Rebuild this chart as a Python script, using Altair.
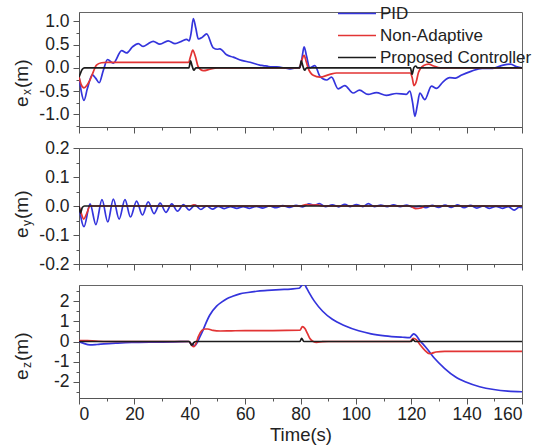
import altair as alt
import pandas as pd

SERIES = ["PID", "Non-Adaptive", "Proposed Controller"]
COLORS = ["#3434dc", "#e23434", "#1c1c1c"]
FONT = "Liberation Sans"

# ---------------- panel 1 : e_x ----------------
ex_pid_t = [0, 0.8, 1.8, 3.0, 4.8, 6.0, 7.3, 8.8, 10.3, 12.4, 15.4, 17.2, 19.3, 21.4,
            23.2, 25.0, 26.8, 29.2, 32.2, 34.7, 37.0, 38.9, 39.8, 40.5, 41.3, 42.2,
            43.1, 44.6, 46.1, 48.5, 50.0, 50.9, 53.3, 55.7, 58.7, 61.8, 65.3, 66.5,
            68.5, 71.4, 74.0, 76.2, 78.5, 79.8, 80.5, 81.3, 82.2, 83.3, 85.2, 87.0,
            89.4, 91.2, 93.6, 96.0, 99.0, 101.3, 104.4, 107.4, 111.0, 114.6, 118.2,
            119.5, 120.5, 121.3, 122.2, 123.1, 124.9, 127.3, 129.1, 131.5, 133.9,
            136.0, 138.0, 141.8, 145.6, 149.4, 153.2, 155.8, 158.3, 160]
ex_pid_v = [-0.18, -0.5, -0.7, -0.45, -0.15, -0.22, -0.32, -0.05, 0.18, 0.10, 0.37,
            0.32, 0.45, 0.52, 0.46, 0.52, 0.57, 0.51, 0.58, 0.52, 0.57, 0.61, 0.58,
            0.75, 1.06, 0.85, 0.62, 0.66, 0.73, 0.43, 0.40, 0.41, 0.28, 0.23, 0.16,
            0.12, 0.06, 0.05, 0.03, 0.02, 0.0, -0.02, 0.0, 0.01, 0.2, 0.45, 0.25, 0.0,
            0.05, -0.18, -0.26, -0.2, -0.45, -0.38, -0.54, -0.48, -0.57, -0.53, -0.59,
            -0.55, -0.57, -0.5, -0.75, -1.04, -0.8, -0.54, -0.68, -0.39, -0.44, -0.30,
            -0.21, -0.22, -0.16, -0.07, -0.01, -0.01, 0.06, 0.08, 0.02, 0.0]
ex_na_t = [0, 0.8, 1.8, 3.0, 4.0, 5.2, 6.3, 8.1, 10, 39.6, 40.3, 41.1, 42.0, 43.1,
           44.9, 47.3, 49.8, 79.6, 80.4, 81.3, 82.0, 82.8, 84.6, 87.0, 90.6, 93,
           119.6, 120.3, 121.0, 121.8, 122.6, 124.5, 126.3, 128.1, 130.5, 160]
ex_na_v = [-0.19, -0.36, -0.43, -0.36, -0.26, -0.08, 0.06, 0.11, 0.12, 0.12, 0.25,
           0.38, 0.25, 0.02, -0.06, -0.03, 0.0, 0.0, 0.15, 0.27, 0.15, -0.01, -0.16,
           -0.2, -0.14, -0.11, -0.11, -0.2, -0.38, -0.3, -0.1, 0.05, 0.08, 0.04, 0.0, 0.0]
ex_pc_t = [0, 0.5, 1.2, 2.0, 39.7, 40.3, 40.8, 41.5, 42.2, 79.7, 80.3, 80.8, 81.5,
           82.2, 119.7, 120.3, 120.9, 121.6, 122.3, 160]
ex_pc_v = [-0.2, -0.12, -0.03, 0.0, 0.0, 0.15, 0.05, -0.05, 0.0, 0.0, 0.15, 0.05,
           -0.05, 0.0, 0.0, -0.14, 0.0, 0.04, 0.0, 0.0]

# ---------------- panel 2 : e_y ----------------
ey_pid_t = [0, 1.8, 4.0, 6.1, 8.3, 10.4, 12.4, 14.5, 16.6, 18.6, 20.8, 22.9, 25.0,
            27.1, 29.3, 31.4, 33.5, 35.6, 37.7, 39.8, 41.9, 44.0, 46.1, 48.2, 50.3,
            52.5, 54.7, 57.0, 59.3, 61.6, 64.0, 66.4, 68.8, 71.2, 73.6, 76.0, 78.4,
            80.8, 83.0, 85.0, 86.8, 89.0, 91.5, 93.8, 96.0, 98.0, 100.2, 102.5, 104.5,
            106.7, 109.0, 111.3, 113.6, 116.0, 118.3, 120.6, 123.0, 125.3, 127.6,
            129.9, 132.2, 134.5, 136.8, 139.1, 141.4, 143.7, 146.0, 148.3, 150.6,
            152.9, 155.0, 157.2, 159.0, 160]
ey_pid_v = [0.0, -0.071, 0.007, -0.064, 0.022, -0.055, 0.024, -0.045, 0.022, -0.038,
            0.017, -0.031, 0.014, -0.026, 0.010, -0.022, 0.007, -0.018, 0.005, -0.014,
            0.003, -0.012, 0.0, -0.011, -0.001, -0.009, -0.002, -0.008, -0.002, -0.008,
            -0.001, -0.007, 0.0, -0.006, 0.001, -0.005, 0.002, -0.003, 0.007, 0.003,
            0.008, -0.002, 0.004, -0.003, 0.006, -0.002, 0.005, -0.002, 0.008, -0.002,
            0.003, -0.002, 0.004, -0.002, 0.003, -0.004, -0.001, -0.006, 0.002, -0.005,
            0.003, -0.005, 0.004, -0.006, 0.002, -0.007, 0.0, -0.008, -0.001, -0.008,
            -0.002, -0.014, -0.004, -0.006]
ey_na_t = [0, 0.8, 1.7, 2.8, 4.0, 8, 40, 41.5, 43, 80, 82, 84, 86, 88, 119.5, 121.5,
           123.5, 125, 160]
ey_na_v = [0.0, -0.025, -0.045, -0.025, 0.0, 0.0, 0.0, 0.004, 0.0, 0.0, 0.005, 0.003,
           0.004, 0.0, 0.0, -0.009, -0.007, 0.0, 0.0]
ey_pc_t = [0, 0.5, 1.2, 2.0, 160]
ey_pc_v = [0.0, -0.025, -0.005, 0.0, 0.0]

# ---------------- panel 3 : e_z ----------------
ez_pid_t = [0, 1.5, 4, 6.5, 9, 14, 19, 27, 34.5, 39.5, 40.8, 41.8, 42.7, 43.7, 44.6,
            45.5, 47.2, 49.7, 51.5, 53.4, 55.5, 58.1, 61, 64.2, 68, 72.6, 76.5, 79.5,
            80.4, 81.2, 82.0, 83.0, 85.0, 88.0, 91.5, 96.0, 101.0, 105.5, 110.5,
            116.9, 119.4, 120.2, 120.9, 121.9, 123.2, 124.5, 125.7, 128.3, 132.1,
            135.9, 139.7, 144.7, 149.8, 154.9, 160]
ez_pid_v = [0.0, -0.08, -0.17, -0.15, -0.12, -0.08, -0.05, -0.03, -0.02, 0.0, -0.14,
            -0.21, -0.05, 0.24, 0.5, 0.8, 1.3, 1.75, 1.95, 2.12, 2.24, 2.36, 2.43, 2.49,
            2.53, 2.57, 2.6, 2.64, 2.77, 2.9, 2.7, 2.45, 2.0, 1.5, 1.1, 0.78, 0.53, 0.38,
            0.28, 0.21, 0.19, 0.3, 0.38, 0.28, 0.02, -0.17, -0.36, -0.82, -1.34, -1.75,
            -2.01, -2.24, -2.38, -2.46, -2.49]
ez_na_t = [0, 3, 6, 10, 39.8, 40.8, 41.5, 42.2, 43.1, 44.4, 45.5, 46.5, 48.4, 51, 55,
           60, 70, 79.8, 80.7, 81.6, 82.5, 83.4, 84.6, 85.8, 88, 90, 119.5, 120.7,
           121.9, 123.2, 125.1, 126.5, 127.5, 128.9, 132.1, 160]
ez_na_v = [0.05, 0.04, 0.02, 0.0, 0.0, -0.2, -0.25, -0.12, 0.24, 0.55, 0.62, 0.62,
           0.55, 0.52, 0.53, 0.54, 0.54, 0.56, 0.74, 0.64, 0.4, 0.15, 0.0, -0.04, -0.01,
           0.0, 0.0, 0.16, 0.08, -0.16, -0.46, -0.6, -0.58, -0.52, -0.49, -0.49]
ez_pc_t = [0, 39.8, 40.7, 41.5, 42.2, 79.8, 80.4, 81.2, 120, 120.6, 121.4, 160]
ez_pc_v = [0.0, 0.0, -0.18, -0.05, 0.0, 0.0, 0.15, 0.0, 0.0, 0.1, 0.0, 0.0]

# axis tick layouts
X_TICKS = list(range(0, 161, 10))
EX_TICKS = [-1.25, -1.0, -0.75, -0.5, -0.25, 0.0, 0.25, 0.5, 0.75, 1.0]
EY_TICKS = [-0.2, -0.15, -0.1, -0.05, 0.0, 0.05, 0.1, 0.15, 0.2]
EZ_TICKS = [-2.5, -2, -1.5, -1, -0.5, 0, 0.5, 1, 1.5, 2, 2.5]

PLOT_W = 443


def frame(parts):
    return pd.concat([pd.DataFrame({"t": t, "v": v, "s": name}) for name, t, v in parts],
                     ignore_index=True)


def title_layers(sub, e_start):
    base = alt.Chart(pd.DataFrame({"k": [0]}))
    common = dict(angle=270, align="left", baseline="alphabetic", font=FONT, color="#222")
    e = base.mark_text(text="e", fontSize=19, **common).encode(
        x=alt.value(-51), y=alt.value(e_start))
    s = base.mark_text(text=sub, fontSize=12, **common).encode(
        x=alt.value(-48), y=alt.value(e_start - 12))
    m = base.mark_text(text="(m)", fontSize=19, **common).encode(
        x=alt.value(-51), y=alt.value(e_start - 19))
    return [e, s, m]


def anchor(y):
    # invisible rule fixing the page extent (left edge to right edge of the window)
    return alt.Chart(pd.DataFrame({"k": [0]})).mark_rule(
        stroke="white", strokeOpacity=0, strokeWidth=1).encode(
        x=alt.value(-78.5), x2=alt.value(469.5), y=alt.value(y), y2=alt.value(y))


def panel(df, height, ydom, yticks, major_test, label_fmt, sub, e_start, last, legend, extra):
    x_kwargs = dict(
        values=X_TICKS,
        labels=last,
        labelExpr="datum.value % 20 == 0 ? datum.label : ''",
        tickSize={"condition": {"test": "datum.value % 20 == 0", "value": 6}, "value": 3},
        labelPadding=1,
        grid=False,
    )
    if last:
        x_kwargs["title"] = "Time(s)"
        x_kwargs["titlePadding"] = 3
    else:
        x_kwargs["title"] = None
    y_axis = alt.Axis(
        values=yticks,
        labelExpr=f"{major_test} ? (datum.value < 0 ? '-' : '') + format(abs(datum.value), '{label_fmt}') : ''",
        tickSize={"condition": {"test": major_test, "value": 6}, "value": 3},
        labelPadding=4,
        grid=False,
        title=None,
    )
    if legend:
        leg = alt.Legend(
            orient="none", legendX=258, legendY=-7, title=None,
            symbolType="stroke", symbolSize=1444, symbolStrokeWidth=1.7,
            clipHeight=17, labelFontSize=17, labelFont=FONT, labelColor="#222",
            labelOffset=3, rowPadding=4, padding=0,
        )
    else:
        leg = None
    lines = alt.Chart(df).mark_line(strokeWidth=1.7, interpolate="monotone", clip=True).encode(
        x=alt.X("t:Q", scale=alt.Scale(domain=[0, 160], nice=False, zero=False), axis=alt.Axis(**x_kwargs)),
        y=alt.Y("v:Q", scale=alt.Scale(domain=ydom, nice=False, zero=False), axis=y_axis),
        color=alt.Color("s:N", scale=alt.Scale(domain=SERIES, range=COLORS), legend=leg, sort=SERIES),
    )
    return alt.layer(lines, *title_layers(sub, e_start), *extra).properties(width=PLOT_W, height=height)


df_x = frame([("PID", ex_pid_t, ex_pid_v), ("Non-Adaptive", ex_na_t, ex_na_v),
              ("Proposed Controller", ex_pc_t, ex_pc_v)])
df_y = frame([("PID", ey_pid_t, ey_pid_v), ("Non-Adaptive", ey_na_t, ey_na_v),
              ("Proposed Controller", ey_pc_t, ey_pc_v)])
df_z = frame([("PID", ez_pid_t, ez_pid_v), ("Non-Adaptive", ez_na_t, ez_na_v),
              ("Proposed Controller", ez_pc_t, ez_pc_v)])

p1 = panel(df_x, 115, [-1.27, 1.2], EX_TICKS, "round(datum.value*100) % 50 == 0", ".1f",
           "x", 95, False, True, [anchor(-11.5)])
p2 = panel(df_y, 116, [-0.2, 0.2], EY_TICKS, "round(datum.value*100) % 10 == 0", ".1f",
           "y", 90, False, False, [])
p3 = panel(df_z, 113, [-2.8, 2.8], EZ_TICKS, "round(datum.value*10) % 10 == 0", "d",
           "z", 95, True, False, [anchor(160.5)])

chart = (
    alt.vconcat(p1, p2, p3, spacing=21, bounds="flush")
    .resolve_scale(color="independent")
    .properties(padding=0)
    .configure_view(stroke="#666", strokeWidth=1)
    .configure_axis(domainColor="#555", tickColor="#555", tickWidth=1,
                    labelFont=FONT, labelFontSize=17.5, labelColor="#222",
                    titleFont=FONT, titleFontSize=18.5, titleFontWeight="normal",
                    titleColor="#222")
)

chart.save("out.html", embed_options={"renderer": "svg", "actions": False})
